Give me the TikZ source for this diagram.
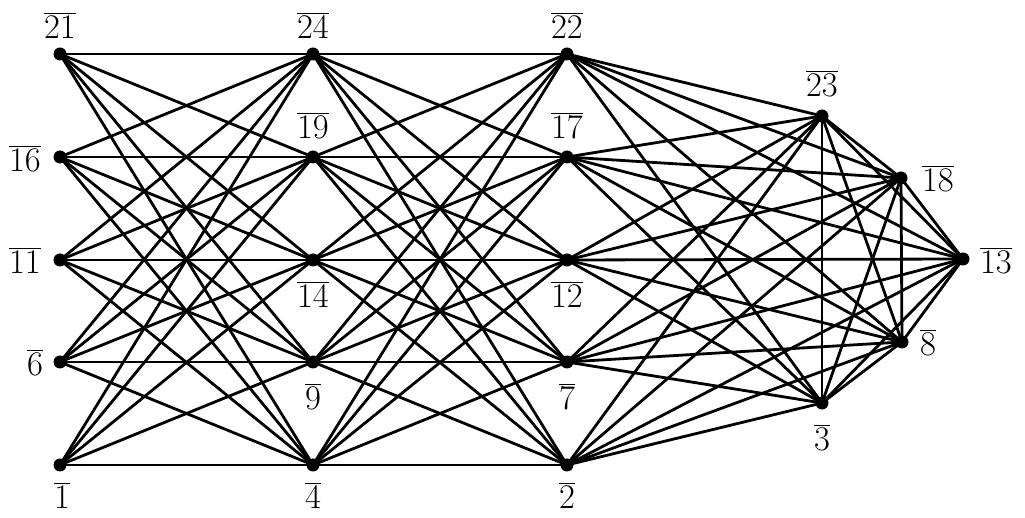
\documentclass[tikz,border=0pt]{standalone}
\begin{document}
\begin{tikzpicture}[x=0.5pt,y=-0.5pt,
  dot/.style={circle,fill=black,inner sep=0pt,minimum size=6.5pt},
  lab/.style={font=\fontsize{17.28}{20}\selectfont,inner sep=0pt},
  edge/.style={line width=1.4pt,black}]
\useasboundingbox (0,0) rectangle (1025,518);
% vertices
\foreach \n/\x/\y in {21/60/54,16/60/157,11/60/260,6/60/362,1/60/465,
  24/313/54,19/313/157,14/313/260,9/313/362,4/313/465,
  22/567/54,17/567/157,12/567/260,7/567/362,2/567/465,
  23/822/116,18/901/178,13/963/259,8/902/342,3/822/403}
  \node[dot] (v\n) at (\x,\y) {};
% edges
\foreach \a in {21,16,11,6,1}{\foreach \b in {24,19,14,9,4}{\draw[edge] (v\a.center)--(v\b.center);}}
\foreach \a in {24,19,14,9,4}{\foreach \b in {22,17,12,7,2}{\draw[edge] (v\a.center)--(v\b.center);}}
\foreach \a in {22,17,12,7,2}{\foreach \b in {23,18,13,8,3}{\draw[edge] (v\a.center)--(v\b.center);}}
\foreach \a/\b in {23/18,23/13,23/8,23/3,18/13,18/8,18/3,13/8,13/3,8/3}{\draw[edge] (v\a.center)--(v\b.center);}
% labels
\foreach \n/\x/\y in {21/60/25,24/313/25,22/567/25,
  16/25/158,11/25/260,6/35/362,
  19/313/125,17/567/125,
  14/313/294,12/567/294,9/313/396,7/567/396,
  1/62/495,4/313/495,2/567/495,
  23/822/83,18/938/178,13/996/260,8/928/342,3/822/437}
  \node[lab] (l\n) at (\x,\y) {$\overline{\n}$};
\end{tikzpicture}
\end{document}
